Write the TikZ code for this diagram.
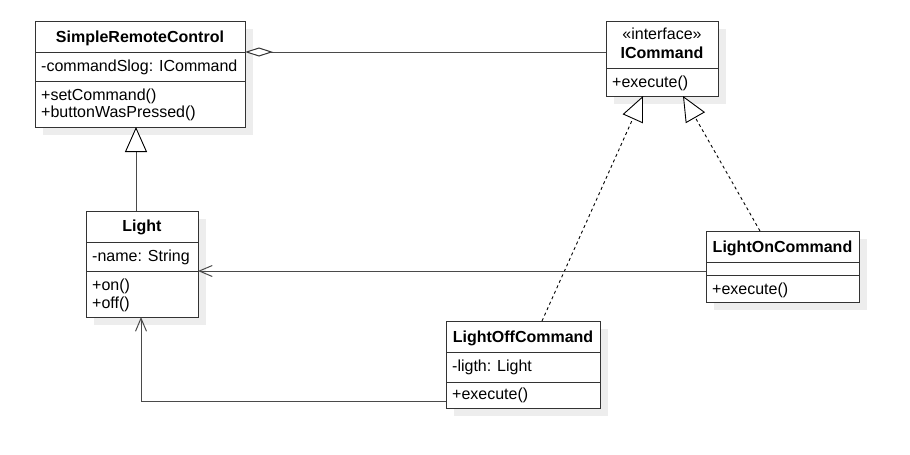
\documentclass[tikz,border=0pt]{standalone}
\usepackage{fontspec}
\setmainfont{Liberation Sans}
\usetikzlibrary{arrows.meta}
\definecolor{ln}{HTML}{333333}
\definecolor{cn}{HTML}{4A4A4A}
\definecolor{shd}{HTML}{EDEDED}
\newcommand\umlbox[5]{% name x1 y1 x2 y2
  \fill[shd] (#2+8,#3+8) rectangle (#4+8,#5+8);
  \node[cls, minimum width={(#4-#2)*1pt}, minimum height={(#5-#3)*1pt}] (#1) at (#2,#3) {};
}
\begin{document}
\begin{tikzpicture}[x=1pt,y=-1pt,
  cls/.style={draw=ln, line width=1pt, fill=white, inner sep=0pt, outer sep=0pt, anchor=north west, rectangle},
  divider/.style={draw=ln, line width=1pt},
  txt/.style={inner sep=0pt, anchor=base west, font=\fontsize{16}{17}\selectfont},
  ttl/.style={inner sep=0pt, anchor=base, font=\fontsize{16}{17}\selectfont\bfseries},
  conn/.style={draw=cn, line width=1pt},
  real/.style={draw=black, line width=0.9pt, dash pattern=on 3pt off 3pt},
  gentip/.style={-{Triangle[open,length=25pt,width=22pt,line width=0.9pt,color=black,fill=white]}},
  opentip/.style={-{Straight Barb[length=13pt,width=11pt,line width=1pt]}}
]
\useasboundingbox (0,0) rectangle (910,455);

% ---------- classes ----------
\umlbox{src}{35}{21}{245}{127}
\draw[divider] (35,52) coordinate (srcd1) -- (245,52);
\draw[divider] (35,81) -- (245,81);
\node[ttl] (srct) at (140,42) {SimpleRemoteControl};
\node[txt] (srcf) at (41,71) {-commandSlog: ICommand};
\node[txt] (srcm1) at (41,100.5) {+setCommand()};
\node[txt] (srcm2) at (41,117.5) {+buttonWasPressed()};

\umlbox{icmd}{606}{21}{718}{96}
\draw[divider] (606,68) -- (718,68);
\node[inner sep=0pt, anchor=base, font=\fontsize{16}{17}\selectfont] (icmds) at (662,39) {«interface»};
\node[ttl] (icmdt) at (662,58) {ICommand};
\node[txt] (icmdm) at (612,87) {+execute()};

\umlbox{light}{86}{211}{198}{317}
\draw[divider] (86,242) -- (198,242);
\draw[divider] (86,271) -- (198,271);
\node[ttl] (lightt) at (142,231.5) {Light};
\node[txt] (lightf) at (92,261) {-name: String};
\node[txt] (lightm1) at (92,290) {+on()};
\node[txt] (lightm2) at (92,308) {+off()};

\umlbox{lon}{706}{231}{859}{302}
\draw[divider] (706,262) -- (859,262);
\draw[divider] (706,275) -- (859,275);
\node[ttl] (lont) at (782.5,252) {LightOnCommand};
\node[txt] (lonm) at (712,294) {+execute()};

\umlbox{loff}{446}{321}{600}{408}
\draw[divider] (446,352) -- (600,352);
\draw[divider] (446,382) -- (600,382);
\node[ttl] (lofft) at (523,342) {LightOffCommand};
\node[txt] (lofff) at (452,371) {-ligth: Light};
\node[txt] (loffm) at (452,399) {+execute()};

% ---------- helper coordinates ----------
\coordinate (gx) at (136,0);
\coordinate (r1x) at (542,0);
\coordinate (r1a) at (643,0);
\coordinate (r2x) at (760,0);
\coordinate (r2a) at (683,0);
\coordinate (ay) at (0,271);
\coordinate (by) at (0,401);
\coordinate (bx) at (141,0);

% ---------- connectors ----------
\draw[conn, {Diamond[open,length=28pt,width=9pt,line width=1pt,color=ln,fill=white]}-]
  (srcd1 -| src.east) -- (srcd1 -| icmd.west);
\draw[conn, gentip] (gx |- light.north) -- (gx |- src.south);
\draw[real, gentip] (r1x |- loff.north) -- (r1a |- icmd.south);
\draw[real, gentip] (r2x |- lon.north) -- (r2a |- icmd.south);
\draw[conn, opentip] (ay -| lon.west) -- (ay -| light.east);
\draw[conn, opentip] (by -| loff.west) -| (bx |- light.south);
\end{tikzpicture}
\end{document}
